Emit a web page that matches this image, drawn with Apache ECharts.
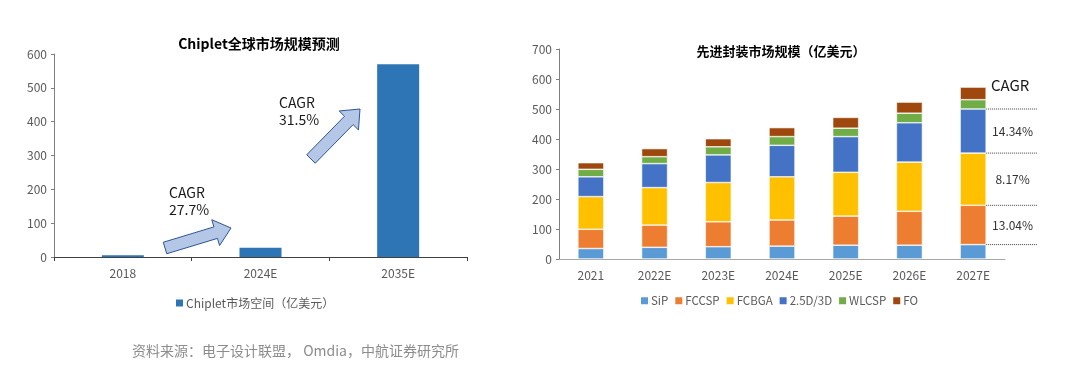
<!DOCTYPE html>
<html><head><meta charset="utf-8">
<script src="https://cdn.jsdelivr.net/npm/echarts@6/dist/echarts.min.js"></script>
<style>html,body{margin:0;padding:0;background:#fff}#c{width:1080px;height:365px}</style>
</head><body><div id="c"></div>
<script>
// Left chart data
const chipletYears = ['2018', '2024E', '2035E'];
const chipletValues = [5, 27, 570];
const leftTicks = [0, 100, 200, 300, 400, 500, 600];
// Right chart data
const pkgYears = ['2021', '2022E', '2023E', '2024E', '2025E', '2026E', '2027E'];
const sip   = [35, 39, 41, 43, 46, 46, 48];
const fccsp = [64, 74, 83, 87, 97, 113, 131];
const fcbga = [109, 125, 131, 144, 146, 164, 174];
const d25   = [66, 80, 92, 105, 119, 131, 147];
const wlcsp = [25, 23, 27, 29, 28, 32, 31];
const fo    = [22, 27, 27, 30, 36, 37, 42];
const cagrLabels = ['13.04%', '8.17%', '14.34%'];

const FONT = '"Noto Sans CJK SC", "Noto Sans", sans-serif';
const labelColor = '#595959';
const colors = {SiP:'#5B9BD5', FCCSP:'#ED7D31', FCBGA:'#FFC000', '2.5D/3D':'#4472C4', WLCSP:'#70AD47', FO:'#9E480E'};
const pkgSeries = [['SiP', sip], ['FCCSP', fccsp], ['FCBGA', fcbga], ['2.5D/3D', d25], ['WLCSP', wlcsp], ['FO', fo]];

const chart = echarts.init(document.getElementById('c'));
const option = {
  backgroundColor: '#fff',
  textStyle: {fontFamily: FONT},
  animation: false,
  title: [
    {text: 'Chiplet全球市场规模预测', left: 254, top: 32, textAlign: 'center',
     textStyle: {fontSize: 14, fontWeight: 'bold', color: '#000', fontFamily: FONT}},
    {text: '先进封装市场规模（亿美元）', left: 776, top: 40, textAlign: 'center',
     textStyle: {fontSize: 13, fontWeight: 'bold', color: '#000', fontFamily: FONT}}
  ],
  legend: [
    {data: ['Chiplet市场空间（亿美元）'], left: 171, top: 292, itemWidth: 7, itemHeight: 7, icon: 'rect',
     textStyle: {fontSize: 12, color: labelColor, fontFamily: FONT, padding: [0, 0, 0, -2]}},
    {data: pkgSeries.map(s => s[0]), left: 636, top: 290, itemWidth: 7, itemHeight: 7, icon: 'rect', itemGap: 7,
     itemStyle: {borderWidth: 0},
     textStyle: {fontSize: 11.5, color: labelColor, fontFamily: FONT, padding: [0, 0, 0, -2]}}
  ],
  grid: [
    {left: 54, right: 613, top: 54, bottom: 108, containLabel: false},
    {left: 559, right: 75, top: 49, bottom: 106, containLabel: false}
  ],
  xAxis: [
    {type: 'category', gridIndex: 0, data: chipletYears,
     axisLine: {lineStyle: {color: '#404040', width: 1}},
     axisTick: {show: true, length: 4, lineStyle: {color: '#404040'}},
     axisLabel: {color: labelColor, fontSize: 12, margin: 10}},
    {type: 'category', gridIndex: 1, data: pkgYears,
     axisLine: {lineStyle: {color: '#a6a6a6', width: 1}},
     axisTick: {show: false},
     axisLabel: {color: labelColor, fontSize: 12, margin: 10}}
  ],
  yAxis: [
    {type: 'value', gridIndex: 0, min: leftTicks[0], max: leftTicks[leftTicks.length - 1], interval: 100,
     axisLine: {show: true, lineStyle: {color: '#7f7f7f'}},
     axisTick: {show: true, length: 3, lineStyle: {color: '#7f7f7f'}},
     splitLine: {show: false},
     axisLabel: {color: labelColor, fontSize: 12, margin: 7}},
    {type: 'value', gridIndex: 1, min: 0, max: 700, interval: 100,
     axisLine: {show: true, lineStyle: {color: '#7f7f7f'}},
     axisTick: {show: true, length: 3, lineStyle: {color: '#7f7f7f'}},
     splitLine: {show: false},
     axisLabel: {color: labelColor, fontSize: 12, margin: 7}}
  ],
  series: [
    {name: 'Chiplet市场空间（亿美元）', type: 'bar', xAxisIndex: 0, yAxisIndex: 0, data: chipletValues,
     barWidth: 42, itemStyle: {color: '#2E75B6'}}
  ].concat(pkgSeries.map(([name, vals]) => ({
    name, type: 'bar', stack: 'pkg', xAxisIndex: 1, yAxisIndex: 1, data: vals, barWidth: 26,
    itemStyle: {color: colors[name], borderColor: '#fff', borderWidth: 0.6}
  })))
};
chart.setOption(option);

function blockArrow(x1, y1, x2, y2, shaft, headW, headL) {
  const dx = x2 - x1, dy = y2 - y1, L = Math.hypot(dx, dy);
  const ux = dx / L, uy = dy / L, nx = -uy, ny = ux;
  const bx = x2 - ux * headL, by = y2 - uy * headL;
  const s = shaft / 2, h = headW / 2;
  return [
    [x1 + nx * s, y1 + ny * s], [bx + nx * s, by + ny * s], [bx + nx * h, by + ny * h],
    [x2, y2], [bx - nx * h, by - ny * h], [bx - nx * s, by - ny * s], [x1 - nx * s, y1 - ny * s]
  ];
}
const arrowStyle = {fill: '#B4C7E7', stroke: '#2F5597', lineWidth: 1};
const graphics = [
  {type: 'polygon', shape: {points: blockArrow(165, 248, 231, 228, 12, 27, 16)}, style: arrowStyle},
  {type: 'polygon', shape: {points: blockArrow(311, 159, 360, 109, 12, 27, 16)}, style: arrowStyle},
  {type: 'text', left: 169, top: 184, style: {text: 'CAGR\n27.7%', font: '14px ' + FONT, fill: '#1a1a1a', lineHeight: 17}},
  {type: 'text', left: 279, top: 94, style: {text: 'CAGR\n31.5%', font: '14px ' + FONT, fill: '#1a1a1a', lineHeight: 17}},
  {type: 'text', left: 991, top: 78, style: {text: 'CAGR', font: '15px ' + FONT, fill: '#1a1a1a'}}
];
// dotted lines at cumulative boundaries of last bar
const last = pkgYears.length - 1;
const cum = [];
let acc = 0;
[sip, fccsp, fcbga, d25].forEach(a => { acc += a[last]; cum.push(acc); });
const barCenter = chart.convertToPixel({xAxisIndex: 1, yAxisIndex: 1}, [pkgYears[last], 0])[0];
const xs = barCenter + 13, xe = 1037;
const ys = cum.map(v => chart.convertToPixel({yAxisIndex: 1}, v));
ys.forEach(y => graphics.push({type: 'line', shape: {x1: xs, y1: y, x2: xe, y2: y},
  style: {stroke: '#404040', lineWidth: 1, lineDash: [1, 1]}}));
for (let i = 0; i < 3; i++) {
  graphics.push({type: 'text', x: (xs + xe) / 2 + 1, y: (ys[i] + ys[i + 1]) / 2,
    style: {text: cagrLabels[i], font: '12px ' + FONT, fill: '#333', align: 'center', verticalAlign: 'middle'}});
}
graphics.push({type: 'text', left: 132, top: 344,
  style: {text: '资料来源：电子设计联盟， Omdia，中航证券研究所', font: '14px ' + FONT, fill: '#8c8c8c'}});
chart.setOption({graphic: graphics});
</script></body></html>
